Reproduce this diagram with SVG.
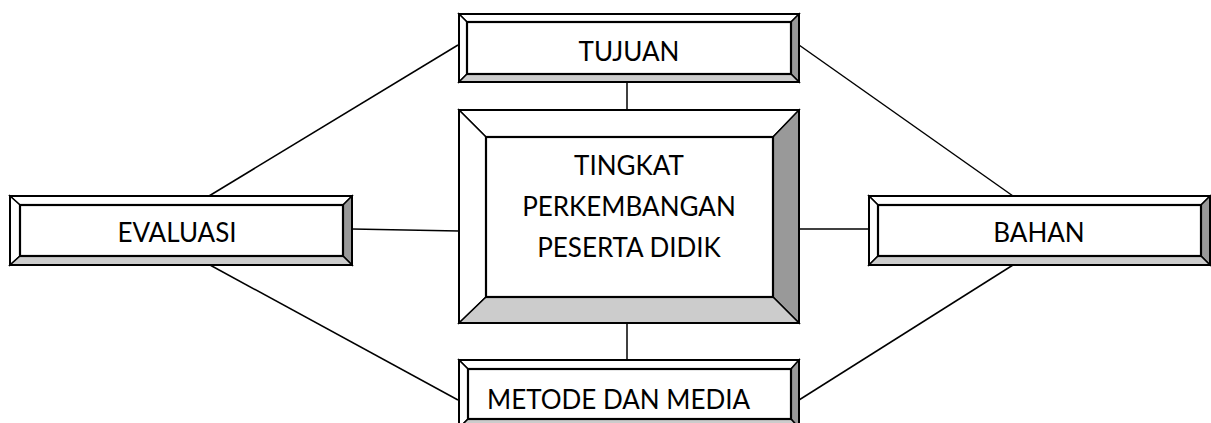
<svg xmlns="http://www.w3.org/2000/svg" width="1211" height="423" viewBox="0 0 1211 423">
<style>
.l{fill:#fff;stroke:#000;stroke-width:1.5;stroke-linejoin:miter}
.r{fill:#999;stroke:#000;stroke-width:1.5}
.b{fill:#ccc;stroke:#000;stroke-width:1.5}
.i{fill:#fff;stroke:#000;stroke-width:2.2}
.f{fill:none;stroke:#000;stroke-width:2}
.t{font-family:Lato,"Open Sans",sans-serif;font-size:26px;fill:#000}
.c{stroke:#000;stroke-width:1.5;fill:none}
</style>
<rect width="1211" height="423" fill="#fff"/>
<g id="connectors">
<line class="c" x1="458" y1="45" x2="209" y2="196"/>
<line class="c" x1="799" y1="45" x2="1013" y2="196"/>
<line class="c" x1="210" y1="265" x2="458" y2="400"/>
<line class="c" x1="1013" y1="265" x2="799" y2="400"/>
<line class="c" x1="627" y1="82" x2="627" y2="110"/>
<line class="c" x1="627" y1="323" x2="627" y2="360"/>
<line class="c" x1="352" y1="229" x2="459" y2="231"/>
<line class="c" x1="799" y1="229" x2="869" y2="229"/>
</g>
<g id="tujuan">
<polygon class="l" points="459,14 799,14 791,22 467,22"/>
<polygon class="l" points="459,14 467,22 467,74 459,82"/>
<polygon class="r" points="799,14 799,82 791,74 791,22"/>
<polygon class="b" points="459,82 799,82 791,74 467,74"/>
<rect class="i" x="467" y="22" width="324" height="52"/>
<rect class="f" x="459" y="14" width="340" height="68"/>
<text class="t" x="629" y="61" text-anchor="middle">TUJUAN</text>
</g>
<g id="tingkat">
<polygon class="l" points="459,110 799,110 773,137 486,137"/>
<polygon class="l" points="459,110 486,137 486,297 459,323"/>
<polygon class="r" points="799,110 799,323 773,297 773,137"/>
<polygon class="b" points="459,323 799,323 773,297 486,297"/>
<rect class="i" x="486" y="137" width="287" height="160"/>
<rect class="f" x="459" y="110" width="340" height="213"/>
<text class="t" text-anchor="middle"><tspan x="629" y="175">TINGKAT</tspan><tspan x="629" y="216">PERKEMBANGAN</tspan><tspan x="629" y="257">PESERTA DIDIK</tspan></text>
</g>
<g id="evaluasi">
<polygon class="l" points="10,196 352,196 343,205 20,205"/>
<polygon class="l" points="10,196 20,205 20,256 10,265"/>
<polygon class="r" points="352,196 352,265 343,256 343,205"/>
<polygon class="b" points="10,265 352,265 343,256 20,256"/>
<rect class="i" x="20" y="205" width="323" height="51"/>
<rect class="f" x="10" y="196" width="342" height="69"/>
<text class="t" x="177" y="242" text-anchor="middle">EVALUASI</text>
</g>
<g id="bahan">
<polygon class="l" points="869,196 1210,196 1201,205 878,205"/>
<polygon class="l" points="869,196 878,205 878,256 869,265"/>
<polygon class="r" points="1210,196 1210,265 1201,256 1201,205"/>
<polygon class="b" points="869,265 1210,265 1201,256 878,256"/>
<rect class="i" x="878" y="205" width="323" height="51"/>
<rect class="f" x="869" y="196" width="341" height="69"/>
<text class="t" x="1039" y="242" text-anchor="middle">BAHAN</text>
</g>
<g id="metode">
<polygon class="l" points="459,360 799,360 791,369 468,369"/>
<polygon class="l" points="459,360 468,369 468,419 459,428"/>
<polygon class="r" points="799,360 799,428 791,419 791,369"/>
<polygon class="b" points="459,428 799,428 791,419 468,419"/>
<rect class="i" x="468" y="369" width="323" height="50"/>
<rect class="f" x="459" y="360" width="340" height="68"/>
<text class="t" x="487" y="409">METODE DAN MEDIA</text>
</g>
</svg>
